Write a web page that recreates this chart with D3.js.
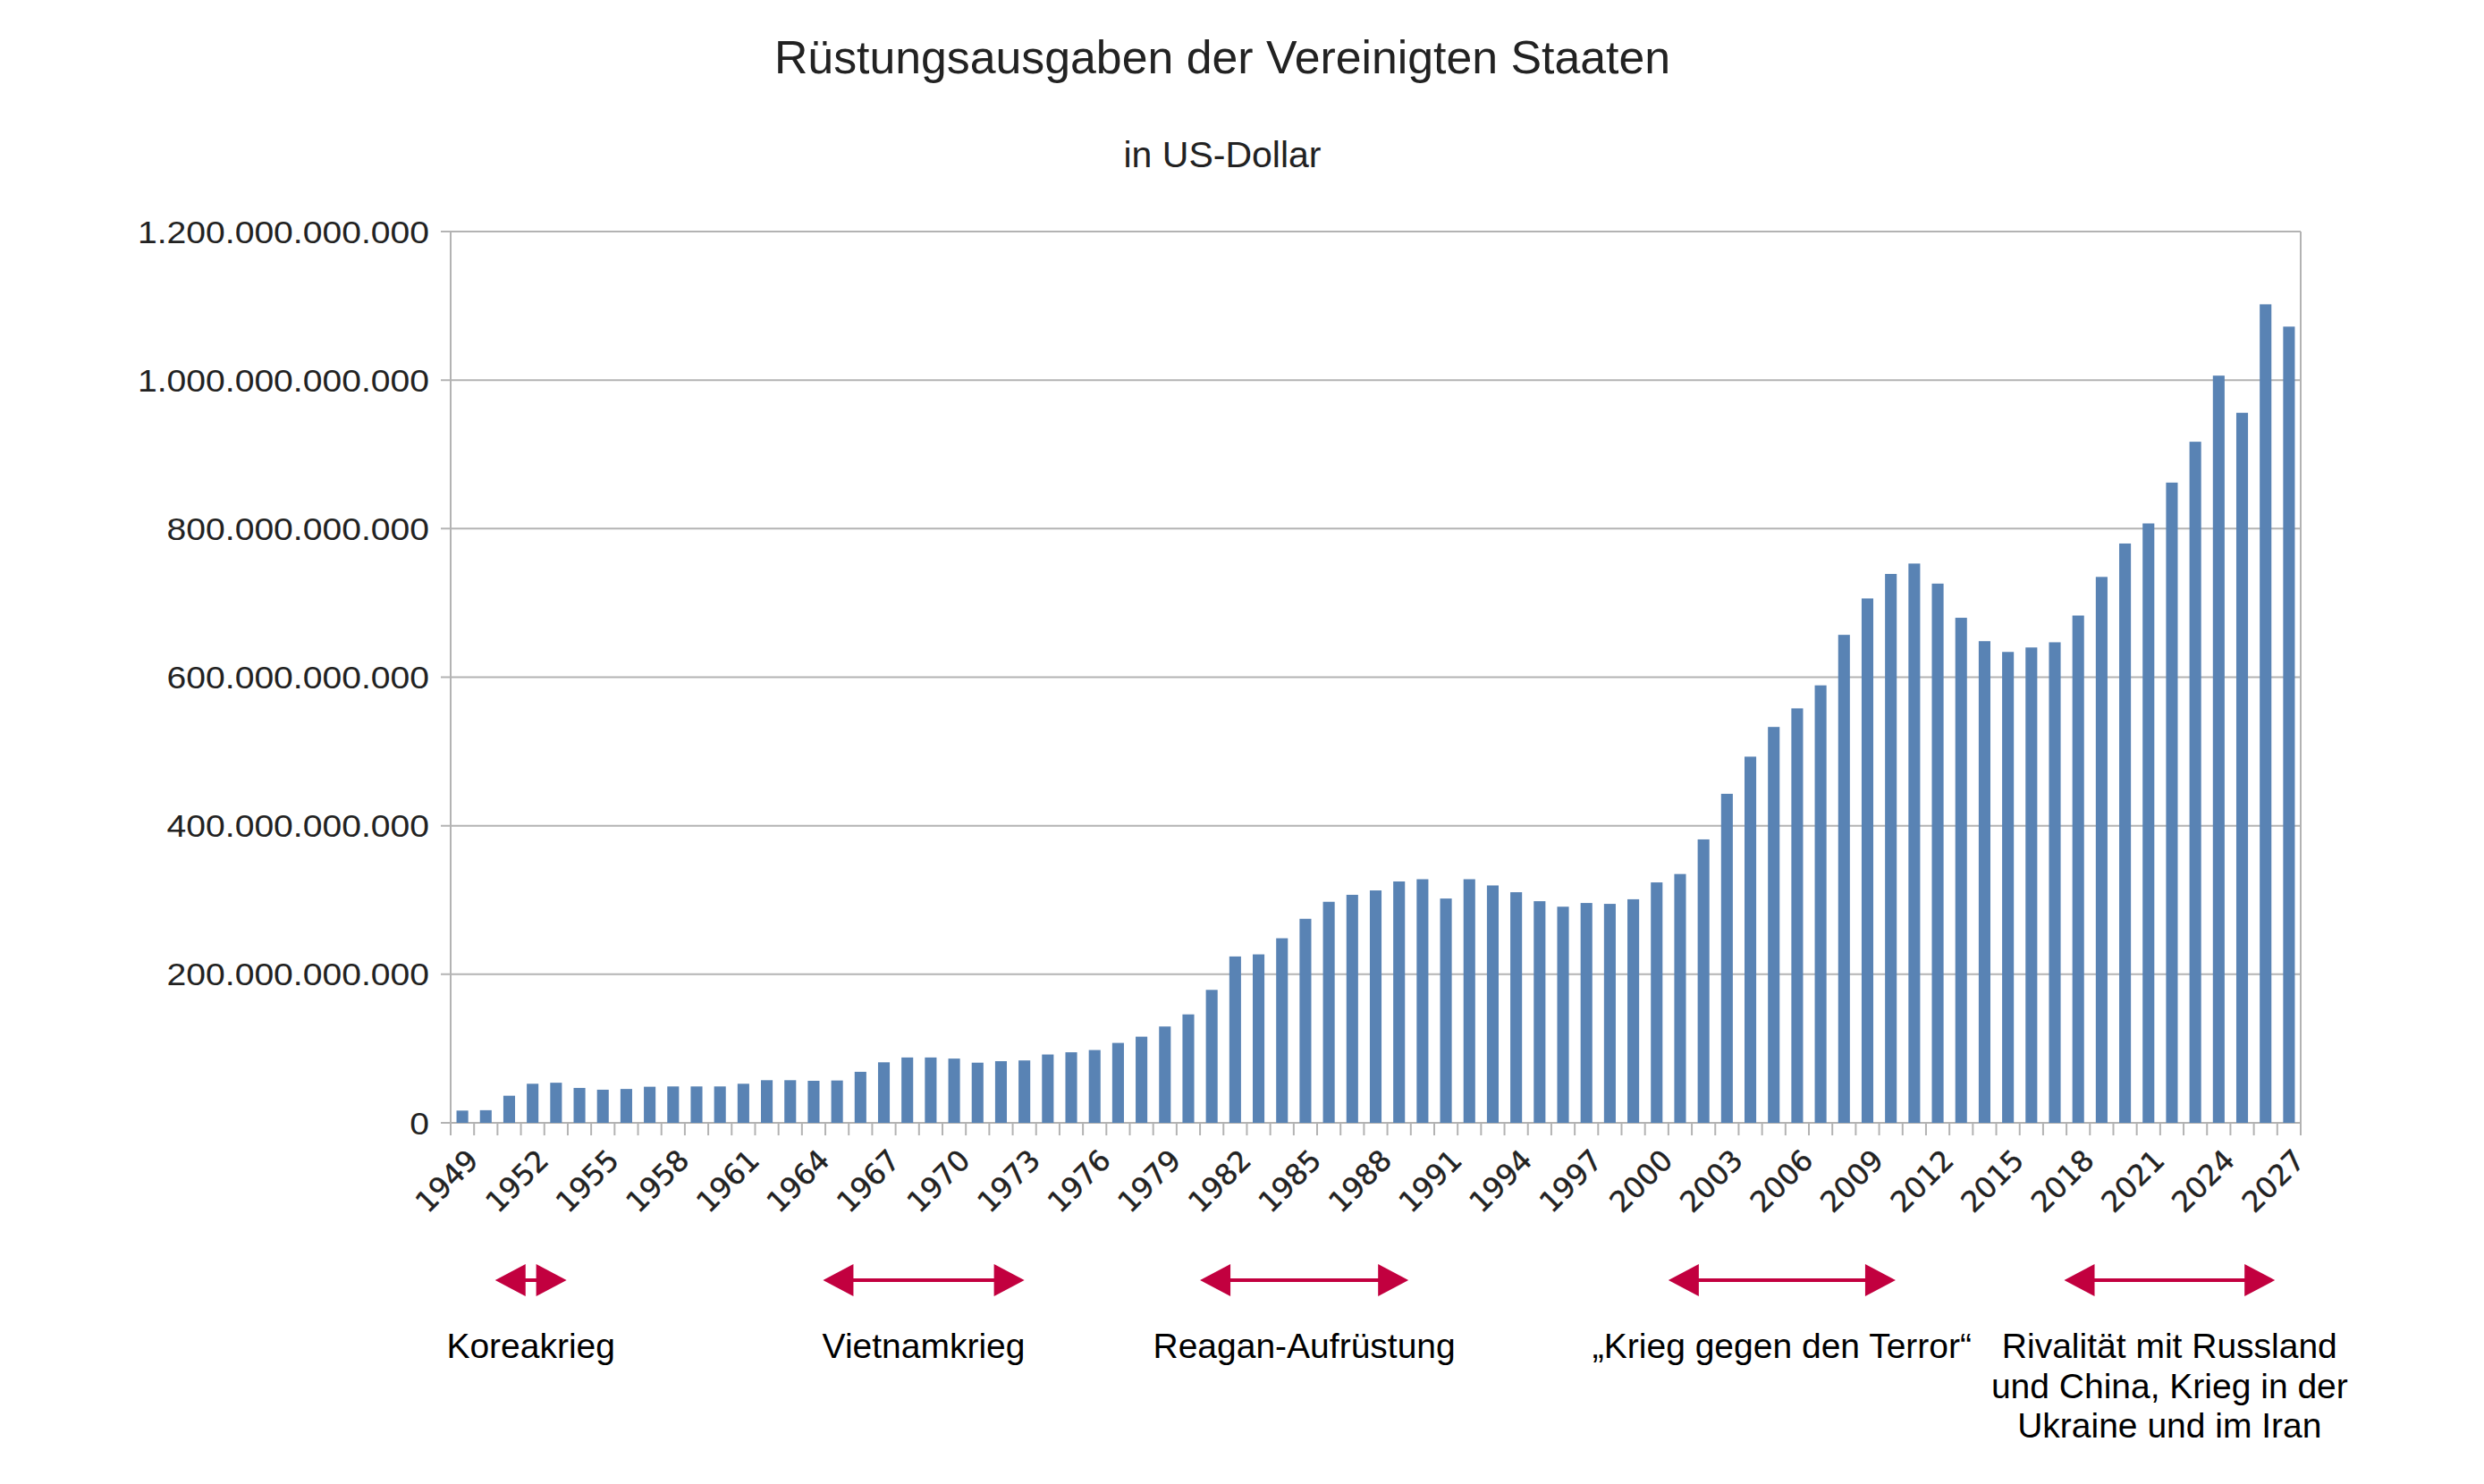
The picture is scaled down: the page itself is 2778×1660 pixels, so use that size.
<!DOCTYPE html>
<html>
<head>
<meta charset="utf-8">
<script src="https://cdn.jsdelivr.net/npm/d3@7"></script>
<style>
  html, body { margin: 0; padding: 0; background: #fff; }
  svg text { font-family: "Liberation Sans", Arial, sans-serif; }
  svg text.year { font-family: "DejaVu Sans", Verdana, sans-serif; }
</style>
</head>
<body>
<svg id="chart"></svg>
<script>
const years = d3.range(1949, 2028);

// Rüstungsausgaben in Mrd. US-Dollar
const spendingBn = [
  16.5, 17, 36.5, 52.6, 54, 47, 44.6, 45.6, 48.6, 49,
  49, 49, 52.6, 57.4, 57.4, 56.6, 57, 68.7, 81.5, 88,
  88, 86.5, 81, 83, 84, 92, 95, 98, 107.6, 116,
  129.7, 146, 179, 224, 226.8, 248.5, 274.7, 297.6, 307, 312.9,
  325, 328, 302, 328, 319.6, 310.5, 298.4, 291, 296, 294.8,
  301, 323.7, 335, 381.6, 443, 493, 533, 558, 589, 657,
  706, 739, 753, 726, 680, 648.5, 634, 640, 647, 683,
  735, 780, 807, 862, 917, 1006, 956, 1102, 1072
];

const yTicks = [0, 200e9, 400e9, 600e9, 800e9, 1000e9, 1200e9];

const eraLabels = [
  ["Koreakrieg"],
  ["Vietnamkrieg"],
  ["Reagan-Aufrüstung"],
  ["„Krieg gegen den Terror“"],
  ["Rivalität mit Russland", "und China, Krieg in der", "Ukraine und im Iran"]
];
// Beginn / Ende der Pfeile in Jahren (Jahresanfang = Kategoriegrenze)
const eraFrom = [1950.9, 1964.9, 1981, 2001, 2017.9];
const eraTo = [1953.95, 1973.5, 1989.9, 2010.7, 2026.9];

const size = { width: 2778, height: 1660 };
const plot = { left: 504, right: 2573, top: 259, bottom: 1256 };

const svg = d3.select("#chart")
  .attr("width", size.width)
  .attr("height", size.height);

svg.append("rect")
  .attr("width", size.width)
  .attr("height", size.height)
  .attr("fill", "#fff");

const x = d3.scaleBand()
  .domain(years)
  .range([plot.left, plot.right])
  .paddingInner(0.5)
  .paddingOuter(0.25);

const step = x.step();
const edge = y => plot.left + years.indexOf(y) * step;

// continuous year position for the era arrows
const xYear = d3.scaleLinear()
  .domain([years[0], years[years.length - 1] + 1])
  .range([plot.left, plot.right]);

const y = d3.scaleLinear()
  .domain([0, 1200e9])
  .range([plot.bottom, plot.top]);

const de = d3.formatLocale({ decimal: ",", thousands: ".", grouping: [3], currency: ["", "$"] });
const fmt = de.format(",.0f");

// gridlines + y labels
const grid = svg.append("g").attr("class", "grid");
grid.selectAll("line")
  .data(yTicks)
  .join("line")
  .attr("x1", plot.left - 11)
  .attr("x2", plot.right)
  .attr("y1", d => y(d))
  .attr("y2", d => y(d))
  .attr("stroke", "#b3b3b3")
  .attr("stroke-width", 2);

// the axis labels in the original are slightly stretched sideways
grid.selectAll("text")
  .data(yTicks)
  .join("text")
  .attr("transform", d => `translate(${plot.left - 24},${y(d)}) scale(1.117,1)`)
  .attr("dy", "0.36em")
  .attr("text-anchor", "end")
  .attr("font-size", 35)
  .attr("fill", "#222")
  .text(fmt);

// bars
svg.append("g")
  .selectAll("rect")
  .data(years)
  .join("rect")
  .attr("x", d => x(d))
  .attr("width", x.bandwidth())
  .attr("y", (d, i) => y(spendingBn[i] * 1e9))
  .attr("height", (d, i) => plot.bottom - y(spendingBn[i] * 1e9))
  .attr("fill", "#5983b4");

// axes frame
svg.append("line")
  .attr("x1", plot.left).attr("x2", plot.left)
  .attr("y1", plot.top).attr("y2", plot.bottom + 14)
  .attr("stroke", "#b3b3b3").attr("stroke-width", 2);
svg.append("line")
  .attr("x1", plot.right).attr("x2", plot.right)
  .attr("y1", plot.top).attr("y2", plot.bottom + 14)
  .attr("stroke", "#b3b3b3").attr("stroke-width", 2);

// x ticks at category boundaries
svg.append("g")
  .selectAll("line")
  .data(years)
  .join("line")
  .attr("x1", d => edge(d))
  .attr("x2", d => edge(d))
  .attr("y1", plot.bottom)
  .attr("y2", plot.bottom + 14)
  .attr("stroke", "#b3b3b3")
  .attr("stroke-width", 2);

// year labels
svg.append("g")
  .selectAll("text")
  .data(years.filter((d, i) => i % 3 === 0))
  .join("text")
  .attr("class", "year")
  .attr("transform", d => `translate(${x(d) + x.bandwidth() / 2 + 3},${plot.bottom + 27}) rotate(-45)`)
  .attr("text-anchor", "end")
  .attr("dy", "0.73em")
  .attr("font-size", 32.5)
  .attr("fill", "#222")
  .attr("stroke", "#222")
  .attr("stroke-width", 0.4)
  .text(d => d);

// title
svg.append("text")
  .attr("x", 1367).attr("y", 82)
  .attr("text-anchor", "middle")
  .attr("font-size", 51.8)
  .attr("fill", "#222")
  .text("Rüstungsausgaben der Vereinigten Staaten");

svg.append("text")
  .attr("x", 1367).attr("y", 187)
  .attr("text-anchor", "middle")
  .attr("font-size", 41)
  .attr("fill", "#222")
  .text("in US-Dollar");

// era arrows
const arrowY = 1432;
const headLen = 34, headH = 36;
const red = "#c2003f";
const eras = svg.append("g").attr("class", "eras");

eraLabels.forEach((lines, i) => {
  const x0 = xYear(eraFrom[i]);
  const x1 = xYear(eraTo[i]);
  const g = eras.append("g");
  g.append("line")
    .attr("x1", x0 + headLen - 2).attr("x2", x1 - headLen + 2)
    .attr("y1", arrowY).attr("y2", arrowY)
    .attr("stroke", red).attr("stroke-width", 4);
  g.append("path")
    .attr("d", `M${x0},${arrowY}L${x0 + headLen},${arrowY - headH / 2}L${x0 + headLen},${arrowY + headH / 2}Z`)
    .attr("fill", red);
  g.append("path")
    .attr("d", `M${x1},${arrowY}L${x1 - headLen},${arrowY - headH / 2}L${x1 - headLen},${arrowY + headH / 2}Z`)
    .attr("fill", red);
  g.selectAll("text")
    .data(lines)
    .join("text")
    .attr("x", (x0 + x1) / 2)
    .attr("y", (d, j) => 1519 + j * 44.5)
    .attr("text-anchor", "middle")
    .attr("font-size", 39)
    .attr("fill", "#000")
    .text(d => d);
});
</script>
</body>
</html>
